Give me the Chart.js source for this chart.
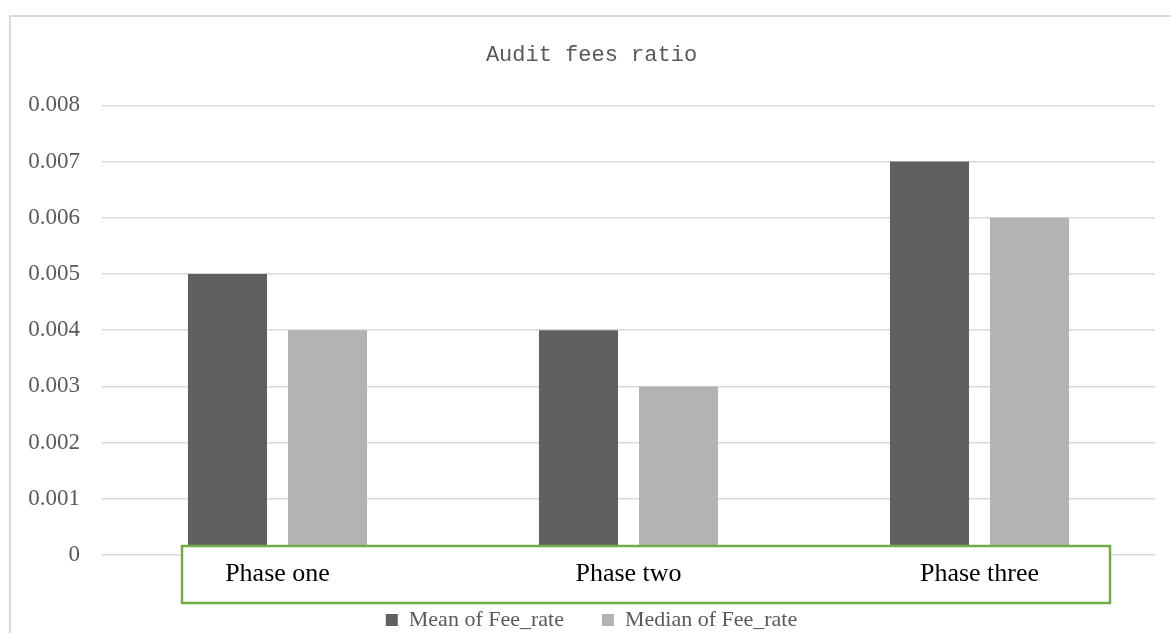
<!DOCTYPE html>
<html>
<head>
<meta charset="utf-8">
<script src="https://cdn.jsdelivr.net/npm/chart.js@4/dist/chart.umd.min.js"></script>
<style>
  html, body { margin: 0; padding: 0; background: #fff; overflow: hidden; width: 1171px; height: 633px; }
  #wrap { position: absolute; left: 9px; top: 15px; width: 1162px; height: 660px;
          border-top: 2px solid #d9d9d9; border-left: 2px solid #d9d9d9; }
  #c { display: block; }
</style>
</head>
<body>
<div id="wrap"><canvas id="c" width="1160" height="648"></canvas></div>
<script>
const chartTitle = 'Audit fees ratio';
const categories = ['Phase one', 'Phase two', 'Phase three'];
const seriesNames = ['Mean of Fee_rate', 'Median of Fee_rate'];
const meanValues = [0.005, 0.004, 0.007];
const medianValues = [0.004, 0.003, 0.006];
const yMin = 0, yMax = 0.008, yStep = 0.001;

const labelBox = {
  id: 'labelBox',
  afterLayout(chart) {
    const lg = chart.legend;
    if (lg) {
      const h = lg.bottom - lg.top;
      lg.top = chart.chartArea.bottom + 16;
      lg.bottom = lg.top + h;
    }
  },
  afterDatasetsDraw(chart) {
    const a = chart.chartArea, ctx = chart.ctx;
    const l = a.left + 80, r = a.right - 45, t = a.bottom - 9, b = a.bottom + 48;
    ctx.save();
    ctx.fillStyle = '#ffffff';
    ctx.fillRect(l, t, r - l, b - t);
    ctx.strokeStyle = '#70ad47';
    ctx.lineWidth = 2.5;
    ctx.strokeRect(l, t, r - l, b - t);
    ctx.restore();
  }
};

new Chart(document.getElementById('c'), {
  type: 'bar',
  data: {
    labels: categories,
    datasets: [
      { label: seriesNames[0], data: meanValues, backgroundColor: '#606060',
        categoryPercentage: 0.57, barPercentage: 0.79 },
      { label: seriesNames[1], data: medianValues, backgroundColor: '#b3b3b3',
        categoryPercentage: 0.57, barPercentage: 0.79 }
    ]
  },
  options: {
    responsive: false,
    animation: false,
    layout: { padding: { left: 17, right: 16, top: 0, bottom: 0 } },
    plugins: {
      title: {
        display: true, text: chartTitle, color: '#595959',
        font: { family: '"Liberation Mono", "DejaVu Sans Mono", monospace', size: 22, weight: 'normal', lineHeight: 1.2 },
        padding: { top: 25, bottom: 37 }
      },
      legend: {
        position: 'bottom',
        labels: {
          color: '#595959', boxWidth: 12, boxHeight: 12, padding: 38,
          font: { family: '"Liberation Serif", "Times New Roman", serif', size: 22 }
        }
      },
      tooltip: { enabled: false }
    },
    scales: {
      x: {
        grid: { display: false, drawTicks: false },
        border: { display: false },
        ticks: {
          z: 1, color: '#000000', padding: 4,
          font: { family: '"Liberation Serif", "Times New Roman", serif', size: 26 }
        },
        afterFit(s) { s.height = 40; }
      },
      y: {
        min: yMin, max: yMax,
        grid: { color: '#d9d9d9', lineWidth: 1.5, drawTicks: false },
        border: { display: false },
        ticks: {
          stepSize: yStep, color: '#595959', padding: 22,
          font: { family: '"Liberation Serif", "Times New Roman", serif', size: 23 },
          callback: v => String(Number(v.toFixed(3)))
        },
        afterFit(s) { s.width = 74; }
      }
    }
  },
  plugins: [labelBox]
});
</script>
</body>
</html>
